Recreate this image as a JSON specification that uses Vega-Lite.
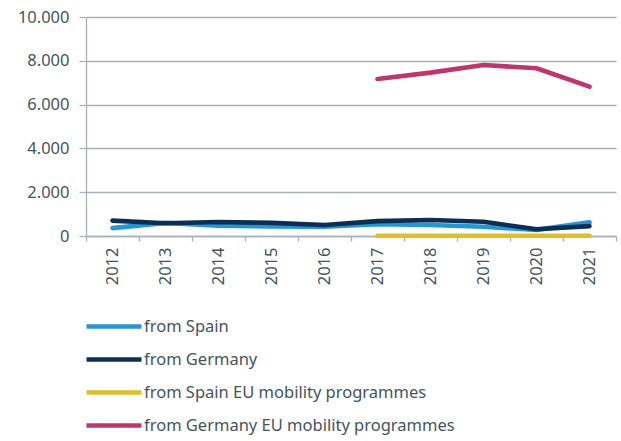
{
  "$schema": "https://vega.github.io/schema/vega-lite/v6.json",
  "width": 530,
  "height": 219,
  "autosize": "none",
  "padding": {"left": 86, "top": 17, "right": 5, "bottom": 205},
  "background": "white",
  "config": {
    "view": {"stroke": null},
    "font": "Noto Sans",
    "axis": {"labelColor": "#44545c", "labelFont": "Noto Sans", "labelFontSize": 16.5, "domainColor": "#a7b1b7", "tickColor": "#a7b1b7", "gridColor": "#a7b1b7", "gridWidth": 1.3, "domainWidth": 1.3, "tickWidth": 1.3}
  },
  "data": {"values": [
    {"year": "2012", "series": "from Spain", "value": 360},
    {"year": "2013", "series": "from Spain", "value": 600},
    {"year": "2014", "series": "from Spain", "value": 470},
    {"year": "2015", "series": "from Spain", "value": 440},
    {"year": "2016", "series": "from Spain", "value": 420},
    {"year": "2017", "series": "from Spain", "value": 540},
    {"year": "2018", "series": "from Spain", "value": 500},
    {"year": "2019", "series": "from Spain", "value": 420},
    {"year": "2020", "series": "from Spain", "value": 280},
    {"year": "2021", "series": "from Spain", "value": 630},
    {"year": "2012", "series": "from Germany", "value": 700},
    {"year": "2013", "series": "from Germany", "value": 580},
    {"year": "2014", "series": "from Germany", "value": 640},
    {"year": "2015", "series": "from Germany", "value": 600},
    {"year": "2016", "series": "from Germany", "value": 500},
    {"year": "2017", "series": "from Germany", "value": 680},
    {"year": "2018", "series": "from Germany", "value": 730},
    {"year": "2019", "series": "from Germany", "value": 650},
    {"year": "2020", "series": "from Germany", "value": 310},
    {"year": "2021", "series": "from Germany", "value": 450},
    {"year": "2017", "series": "from Spain EU mobility programmes", "value": 10},
    {"year": "2018", "series": "from Spain EU mobility programmes", "value": 10},
    {"year": "2019", "series": "from Spain EU mobility programmes", "value": 10},
    {"year": "2020", "series": "from Spain EU mobility programmes", "value": 10},
    {"year": "2021", "series": "from Spain EU mobility programmes", "value": 10},
    {"year": "2017", "series": "from Germany EU mobility programmes", "value": 7170},
    {"year": "2018", "series": "from Germany EU mobility programmes", "value": 7460},
    {"year": "2019", "series": "from Germany EU mobility programmes", "value": 7810},
    {"year": "2020", "series": "from Germany EU mobility programmes", "value": 7660},
    {"year": "2021", "series": "from Germany EU mobility programmes", "value": 6820}
  ]},
  "mark": {"type": "line", "strokeWidth": 4.6, "strokeCap": "round", "strokeJoin": "round"},
  "encoding": {
    "x": {
      "field": "year", "type": "ordinal", "bandPosition": 0.5,
      "scale": {"type": "band", "paddingInner": 0, "paddingOuter": 0},
      "axis": {"title": null, "labelAngle": -90, "tickBand": "extent", "tickSize": 5, "labelPadding": 6, "grid": false}
    },
    "y": {
      "field": "value", "type": "quantitative",
      "scale": {"domain": [0, 10000], "nice": false},
      "axis": {"title": null, "values": [0, 2000, 4000, 6000, 8000, 10000], "labelExpr": "replace(format(datum.value, ','), ',', '.')", "tickSize": 7, "labelPadding": 10, "grid": true}
    },
    "color": {
      "field": "series", "type": "nominal",
      "scale": {"domain": ["from Spain", "from Germany", "from Spain EU mobility programmes", "from Germany EU mobility programmes"], "range": ["#2596d4", "#0c2e53", "#dcbf2a", "#bd3670"]},
      "legend": {"title": null, "orient": "none", "legendX": -2, "legendY": 297, "direction": "vertical", "symbolType": "M-1,0H4.5", "symbolSize": 400, "symbolStrokeWidth": 4.6, "symbolFillColor": "transparent", "labelFontSize": 16.5, "labelColor": "#44545c", "labelFont": "Noto Sans", "labelOffset": 35, "rowPadding": 11, "labelLimit": 500}
    }
  }
}
